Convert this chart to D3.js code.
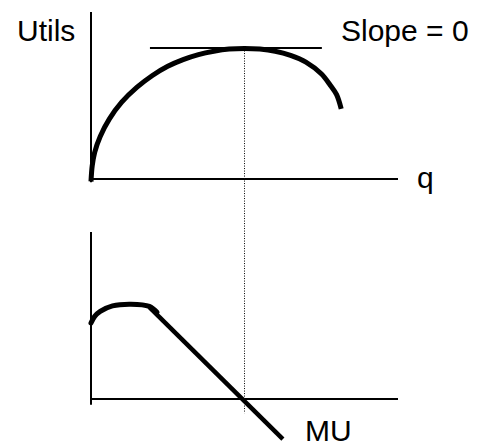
<!DOCTYPE html>
<html>
<head>
<meta charset="utf-8">
<script src="https://cdn.jsdelivr.net/npm/d3@7"></script>
<style>
  html, body { margin: 0; padding: 0; background: #fff; }
  svg { display: block; }
  text { font-family: "Liberation Sans", Arial, sans-serif; font-size: 30px; fill: #000; }
</style>
</head>
<body>
<div id="chart"></div>
<script>
// --- Data (q in units, utils in units) ---
// total utility curve
const tuQ = [0, 0.04, 0.12, 0.3, 0.6, 1.0, 1.5, 2.0, 2.5, 3.0, 3.5, 4.0, 4.5, 5.0, 5.5, 6.0, 6.5, 7.0, 7.5, 7.8, 8.0, 8.15];
const tuU = [-0.15, 0.8, 1.6, 2.55, 3.6, 4.6, 5.5, 6.2, 6.75, 7.15, 7.45, 7.65, 7.78, 7.82, 7.78, 7.65, 7.4, 7.0, 6.3, 5.6, 5.05, 4.2];
// tangent at the maximum
const tangentQ = [1.92, 7.52];
const tangentU = 7.84;
// marginal utility: hump then straight falling line
const muHumpQ = [0, 0.12, 0.3, 0.7, 1.3, 1.9, 2.15];
const muHumpU = [4.55, 4.95, 5.25, 5.58, 5.68, 5.55, 5.2];
const muLineQ = [1.9, 6.25];
const muLineU = [5.5, -2.4];
// quantity where TU peaks / MU crosses zero
const peakQ = 5;

// labels
const labels = { utils: "Utils", slope: "Slope = 0", q: "q", mu: "MU" };

const width = 486, height = 446;

const svg = d3.select("#chart").append("svg")
    .attr("width", width)
    .attr("height", height);

// shared horizontal scale
const x = d3.scaleLinear().domain([0, 10]).range([91, 398]);
// top panel (total utility)
const yTop = d3.scaleLinear().domain([0, 10]).range([179, 12]);
// bottom panel (marginal utility)
const yBot = d3.scaleLinear().domain([0, 10]).range([399, 232]);

// axes drawn as plain lines off the scales
function drawAxes(y, yMin) {
    svg.append("line")
        .attr("x1", x(0)).attr("x2", x(0))
        .attr("y1", y(yMin)).attr("y2", y(10))
        .attr("stroke", "#000").attr("stroke-width", 2);
    svg.append("line")
        .attr("x1", x(0)).attr("x2", x(10))
        .attr("y1", y(0)).attr("y2", y(0))
        .attr("stroke", "#000").attr("stroke-width", 2);
}
drawAxes(yTop, -0.2);
drawAxes(yBot, -0.35);

// dotted guide from the peak down to the MU axis
svg.append("line")
    .attr("x1", x(peakQ)).attr("x2", x(peakQ))
    .attr("y1", yTop(tangentU)).attr("y2", yBot(-0.85))
    .attr("stroke", "#000").attr("stroke-width", 1)
    .attr("stroke-dasharray", "1,1.5");

// tangent line
svg.append("line")
    .attr("x1", x(tangentQ[0])).attr("x2", x(tangentQ[1]))
    .attr("y1", yTop(tangentU)).attr("y2", yTop(tangentU))
    .attr("stroke", "#000").attr("stroke-width", 2);

// total utility curve
const tuLine = d3.line()
    .x(d => x(d[0]))
    .y(d => yTop(d[1]))
    .curve(d3.curveCatmullRom.alpha(0.5));

svg.append("path")
    .datum(d3.zip(tuQ, tuU))
    .attr("d", tuLine)
    .attr("fill", "none")
    .attr("stroke", "#000")
    .attr("stroke-width", 5);

// marginal utility
const muCurve = d3.line()
    .x(d => x(d[0]))
    .y(d => yBot(d[1]))
    .curve(d3.curveCatmullRom.alpha(0.5));

svg.append("path")
    .datum(d3.zip(muHumpQ, muHumpU))
    .attr("d", muCurve)
    .attr("fill", "none")
    .attr("stroke", "#000")
    .attr("stroke-width", 5)
    .attr("stroke-linecap", "round");

svg.append("path")
    .datum(d3.zip(muLineQ, muLineU))
    .attr("d", d3.line().x(d => x(d[0])).y(d => yBot(d[1])))
    .attr("fill", "none")
    .attr("stroke", "#000")
    .attr("stroke-width", 4.5);

// text labels
svg.append("text").attr("x", 17).attr("y", 41).text(labels.utils);
svg.append("text").attr("x", 341).attr("y", 41).text(labels.slope);
svg.append("text").attr("x", 417).attr("y", 188).text(labels.q);
svg.append("text").attr("x", 305).attr("y", 441).text(labels.mu);
</script>
</body>
</html>
